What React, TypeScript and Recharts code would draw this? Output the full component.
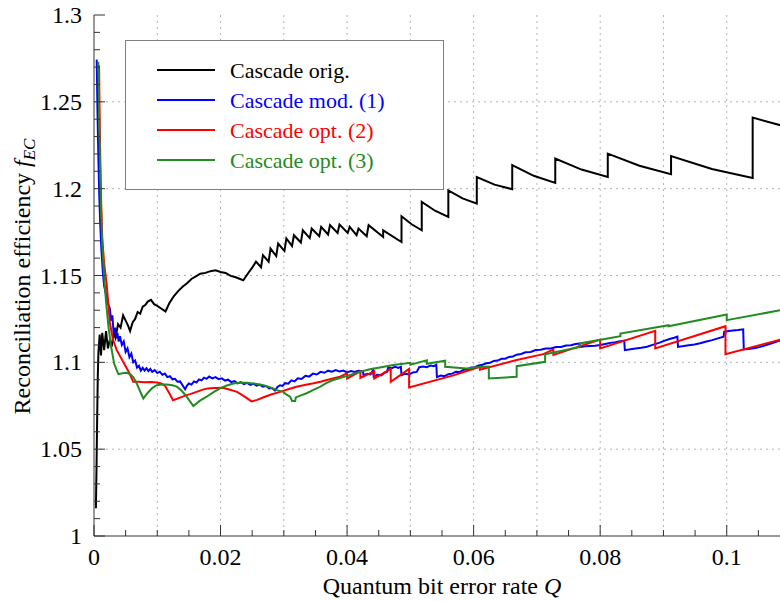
import React from 'react';
import { LineChart, Line, XAxis, YAxis, CartesianGrid, Legend } from 'recharts';

const FONT = '"Liberation Serif", "Times New Roman", "DejaVu Serif", serif';

// Axis ticks
const xTicks = [0, 0.005, 0.01, 0.015, 0.02, 0.025, 0.03, 0.035, 0.04, 0.045, 0.05, 0.055, 0.06, 0.065, 0.07, 0.075, 0.08, 0.085, 0.09, 0.095, 0.1, 0.105, 0.11];
const xLabelTicks = [0, 0.02, 0.04, 0.06, 0.08, 0.1];
const yTicks = [1, 1.01, 1.02, 1.03, 1.04, 1.05, 1.06, 1.07, 1.08, 1.09, 1.1, 1.11, 1.12, 1.13, 1.14, 1.15, 1.16, 1.17, 1.18, 1.19, 1.2, 1.21, 1.22, 1.23, 1.24, 1.25, 1.26, 1.27, 1.28, 1.29, 1.3];
const yLabelTicks = [1, 1.05, 1.1, 1.15, 1.2, 1.25, 1.3];
const gridX = [0.01, 0.02, 0.03, 0.04, 0.05, 0.06, 0.07, 0.08, 0.09, 0.1];
const gridY = [1.05, 1.1, 1.15, 1.2, 1.25];

// Series: [Q, f_EC]
const blackPts: [number, number][] = [
  [0.0003, 1.016], [0.0004, 1.04], [0.0005, 1.068], [0.0006, 1.092], [0.0007, 1.106], [0.0009, 1.116],
  [0.0011, 1.104], [0.0013, 1.117], [0.0016, 1.107], [0.0019, 1.118], [0.0022, 1.108], [0.0025, 1.113],
  [0.0028, 1.109], [0.0031, 1.117], [0.0034, 1.114], [0.0038, 1.122], [0.0042, 1.12], [0.0046, 1.127],
  [0.005, 1.124], [0.0054, 1.121], [0.0057, 1.118], [0.0061, 1.123], [0.0065, 1.125], [0.0069, 1.129],
  [0.0073, 1.128], [0.0077, 1.132], [0.0081, 1.133], [0.0085, 1.135], [0.009, 1.136], [0.0095, 1.1335],
  [0.01, 1.1325], [0.0106, 1.131], [0.0113, 1.1293], [0.0119, 1.134], [0.0126, 1.138], [0.0133, 1.141],
  [0.014, 1.1435], [0.0147, 1.1455], [0.0154, 1.148], [0.0161, 1.1495], [0.0168, 1.151], [0.0176, 1.1515],
  [0.0184, 1.1525], [0.0192, 1.153], [0.02, 1.152], [0.0208, 1.1515], [0.0216, 1.1498], [0.0224, 1.149],
  [0.0231, 1.148], [0.0236, 1.1472], [0.0243, 1.151], [0.025, 1.1545],
  [0.0256, 1.158], [0.0264, 1.1548], [0.0267, 1.1617], [0.0276, 1.158], [0.0279, 1.1655], [0.0288, 1.1612],
  [0.0291, 1.1684], [0.0301, 1.1642], [0.0304, 1.1713], [0.0313, 1.167], [0.0316, 1.1732], [0.0327, 1.169],
  [0.033, 1.176], [0.0341, 1.1715], [0.0344, 1.177], [0.0356, 1.1726], [0.0359, 1.178], [0.037, 1.1736],
  [0.0373, 1.179], [0.0385, 1.1745], [0.0388, 1.1793], [0.0401, 1.1745], [0.0404, 1.178], [0.0415, 1.1732],
  [0.0418, 1.177], [0.0431, 1.1726], [0.0434, 1.179],
  [0.0457, 1.1722], [0.0457, 1.176], [0.0486, 1.1693], [0.0486, 1.1841], [0.0502, 1.1795], [0.0518, 1.176],
  [0.0518, 1.1924], [0.0539, 1.1873], [0.056, 1.1837], [0.056, 1.199], [0.05825, 1.1944], [0.0605, 1.1914],
  [0.0605, 1.2067], [0.0633, 1.2023], [0.0661, 1.1997], [0.0661, 1.2135], [0.0695, 1.2074], [0.0729, 1.2033],
  [0.0729, 1.2173], [0.07705, 1.211], [0.0812, 1.2067], [0.0812, 1.2202], [0.0862, 1.2132], [0.0912, 1.2083],
  [0.0912, 1.2188], [0.09765, 1.2113], [0.1041, 1.2062], [0.1041, 1.2409], [0.1085, 1.2365], [0.11, 1.235],
];

const bluePts: [number, number][] = [
  [0.00043, 1.2743], [0.00055, 1.245], [0.00068, 1.22], [0.00082, 1.198], [0.00098, 1.18], [0.00117, 1.165],
  [0.0014, 1.152], [0.0016, 1.144], [0.0019, 1.139], [0.0022, 1.134], [0.0025, 1.131], [0.0027, 1.124],
  [0.0029, 1.127], [0.0031, 1.117], [0.0033, 1.12], [0.0035, 1.114], [0.0037, 1.117], [0.0039, 1.112],
  [0.0041, 1.115], [0.0044, 1.11], [0.0047, 1.112], [0.005, 1.106], [0.0053, 1.108], [0.0056, 1.103],
  [0.0059, 1.105], [0.0062, 1.1], [0.0065, 1.101], [0.0068, 1.097], [0.0071, 1.098], [0.0074, 1.0952],
  [0.0077, 1.0968], [0.008, 1.0952], [0.0083, 1.0966], [0.0086, 1.095], [0.0089, 1.0962], [0.0092, 1.0945],
  [0.0096, 1.0955], [0.01, 1.0938], [0.0104, 1.0946], [0.0108, 1.0928], [0.0112, 1.0935], [0.0116, 1.0915],
  [0.012, 1.092], [0.0124, 1.0902], [0.0128, 1.0905], [0.0132, 1.0888], [0.0136, 1.089], [0.014, 1.0868],
  [0.0144, 1.0845], [0.0147, 1.0866], [0.015, 1.0878], [0.0154, 1.0872], [0.0158, 1.089], [0.0162, 1.0884],
  [0.0166, 1.0902], [0.017, 1.0896], [0.0174, 1.0912], [0.0178, 1.0905], [0.0182, 1.0918], [0.0187, 1.0908],
  [0.0192, 1.0915], [0.0197, 1.0903], [0.0202, 1.0908], [0.0207, 1.0895], [0.0212, 1.09], [0.0217, 1.0886],
  [0.0222, 1.0892], [0.0227, 1.0879], [0.0232, 1.0886], [0.0237, 1.0874], [0.0242, 1.0882], [0.0247, 1.087],
  [0.0252, 1.0877], [0.0257, 1.0866], [0.0262, 1.0872], [0.0267, 1.086], [0.0272, 1.0864], [0.0277, 1.085],
  [0.0281, 1.0852], [0.0286, 1.0838], [0.029, 1.0858], [0.0294, 1.0868], [0.0298, 1.0864], [0.0302, 1.088],
  [0.0307, 1.0877], [0.0312, 1.0896], [0.0317, 1.089], [0.0322, 1.0908], [0.0328, 1.0904], [0.0334, 1.0922],
  [0.034, 1.0918], [0.0346, 1.0935], [0.0352, 1.093], [0.0358, 1.0945], [0.0364, 1.094], [0.037, 1.0952],
  [0.0376, 1.0946], [0.0382, 1.0956], [0.0388, 1.0948], [0.0394, 1.0953], [0.04, 1.0942], [0.0406, 1.095],
  [0.0412, 1.0944], [0.0418, 1.0952], [0.0425, 1.0948], [0.0426, 1.0926], [0.0432, 1.0934], [0.0437, 1.093],
  [0.0441, 1.0955], [0.0442, 1.0917], [0.0448, 1.0928], [0.0454, 1.0924], [0.0459, 1.094], [0.0463, 1.0945],
  [0.0465, 1.097], [0.047, 1.0966], [0.0476, 1.0974], [0.0481, 1.0968], [0.0485, 1.0975], [0.0486, 1.0926],
  [0.0492, 1.0934], [0.0498, 1.093], [0.0504, 1.0942], [0.051, 1.0945], [0.0514, 1.0972], [0.052, 1.0976],
  [0.0526, 1.0972], [0.0532, 1.0982], [0.0537, 1.0978], [0.0541, 1.0986], [0.0542, 1.0915], [0.0548, 1.0924],
  [0.0554, 1.092], [0.056, 1.0932], [0.0566, 1.0935], [0.0572, 1.0946], [0.0578, 1.0944], [0.0584, 1.0957],
  [0.059, 1.0958], [0.0596, 1.097], [0.0602, 1.0972], [0.0608, 1.0982], [0.0614, 1.0986], [0.062, 1.0995],
  [0.0626, 1.0998], [0.0632, 1.1008], [0.0638, 1.101], [0.0644, 1.102], [0.065, 1.1021], [0.0656, 1.1031],
  [0.0662, 1.1034], [0.0668, 1.1044], [0.0675, 1.1048], [0.0682, 1.1058], [0.069, 1.106], [0.0698, 1.1071],
  [0.0706, 1.1072], [0.0714, 1.108], [0.0722, 1.108], [0.073, 1.1088], [0.0738, 1.1088], [0.0746, 1.1097],
  [0.0754, 1.1098], [0.0761, 1.1106], [0.0767, 1.1108], [0.0768, 1.1088], [0.0776, 1.1092], [0.0784, 1.1094],
  [0.0792, 1.1096], [0.08, 1.11], [0.0808, 1.1106], [0.0816, 1.1112], [0.0824, 1.1116], [0.0832, 1.1122],
  [0.0838, 1.1125], [0.0839, 1.107], [0.0848, 1.1075], [0.0856, 1.1079], [0.0865, 1.1084], [0.0874, 1.109],
  [0.0884, 1.1102], [0.0893, 1.1112], [0.0902, 1.1125], [0.0911, 1.1136], [0.0917, 1.1142], [0.0922, 1.1148],
  [0.0923, 1.1089], [0.0932, 1.1094], [0.094, 1.1098], [0.0949, 1.1103], [0.0958, 1.111], [0.0968, 1.112],
  [0.0977, 1.1128], [0.0986, 1.1138], [0.0995, 1.1148], [0.0996, 1.1175], [0.1003, 1.118], [0.101, 1.1183],
  [0.1018, 1.1186], [0.1026, 1.119], [0.1027, 1.1074], [0.1034, 1.1077], [0.104, 1.108], [0.1047, 1.1084],
  [0.1053, 1.1089], [0.1061, 1.1098], [0.107, 1.1108], [0.1078, 1.1118], [0.1085, 1.1128], [0.11, 1.1145],
];

const redPts: [number, number][] = [
  [0.0008, 1.271], [0.00088, 1.245], [0.001, 1.215], [0.00115, 1.19], [0.0013, 1.172], [0.0016, 1.157],
  [0.002, 1.145], [0.0025, 1.123], [0.003, 1.113], [0.0036, 1.107], [0.0042, 1.103], [0.0048, 1.099],
  [0.0055, 1.0945], [0.0062, 1.0888], [0.007, 1.0888], [0.008, 1.0886], [0.009, 1.0887], [0.0099, 1.0884],
  [0.0106, 1.0878], [0.0112, 1.0866], [0.0119, 1.0822], [0.0125, 1.0782], [0.0135, 1.0795], [0.0145, 1.081],
  [0.0152, 1.0817], [0.0162, 1.083], [0.0172, 1.0843], [0.018, 1.085], [0.019, 1.0852], [0.0204, 1.0853],
  [0.0215, 1.0842], [0.0226, 1.083], [0.0235, 1.081], [0.0241, 1.0795], [0.0249, 1.0775], [0.0258, 1.0784],
  [0.0268, 1.0799], [0.028, 1.0815], [0.0294, 1.083], [0.0307, 1.0845], [0.032, 1.0859], [0.0333, 1.087],
  [0.0347, 1.0879], [0.0358, 1.0888], [0.0368, 1.0898], [0.0379, 1.0908], [0.0389, 1.0917], [0.04, 1.0936],
  [0.04, 1.0907], [0.0421, 1.0948], [0.0421, 1.091], [0.0443, 1.0948], [0.0443, 1.0907], [0.0469, 1.0962],
  [0.0469, 1.0888], [0.0498, 1.0962], [0.0498, 1.0855], [0.0568, 1.0925], [0.061, 1.0975], [0.061, 1.0958],
  [0.0668, 1.1013], [0.071, 1.1047], [0.0726, 1.1074], [0.0726, 1.1043], [0.08, 1.1131], [0.08, 1.108],
  [0.0887, 1.1181], [0.0887, 1.108], [0.0998, 1.1208], [0.0998, 1.1047], [0.1085, 1.1131], [0.11, 1.1145],
];

const greenPts: [number, number][] = [
  [0.00068, 1.273], [0.0008, 1.245], [0.00095, 1.215], [0.0011, 1.19], [0.0013, 1.168], [0.0016, 1.15],
  [0.0019, 1.135], [0.0023, 1.12], [0.0027, 1.109], [0.0032, 1.099], [0.00385, 1.0932], [0.0045, 1.0937],
  [0.0052, 1.094], [0.0058, 1.093], [0.0062, 1.0915], [0.0068, 1.0875], [0.0073, 1.0832], [0.0078, 1.0792],
  [0.0085, 1.0825], [0.0092, 1.0852], [0.0099, 1.0868], [0.0107, 1.0872], [0.0115, 1.0873], [0.0124, 1.0868],
  [0.0131, 1.086], [0.0139, 1.0835], [0.0147, 1.08], [0.0157, 1.0748], [0.0167, 1.0778], [0.0178, 1.0802],
  [0.0189, 1.0828], [0.0199, 1.085], [0.021, 1.0867], [0.022, 1.0878], [0.023, 1.0882], [0.0241, 1.0882],
  [0.0255, 1.0877], [0.0268, 1.0868], [0.0279, 1.0855], [0.0289, 1.084], [0.0299, 1.083], [0.0305, 1.0812],
  [0.031, 1.0802], [0.0313, 1.0778], [0.0318, 1.0778], [0.0319, 1.0798], [0.0327, 1.081], [0.0336, 1.0822],
  [0.0346, 1.084], [0.0357, 1.0859], [0.0367, 1.088], [0.0378, 1.0898], [0.0389, 1.091], [0.04, 1.0922],
  [0.042, 1.0945], [0.0436, 1.096], [0.0452, 1.097], [0.0473, 1.0984], [0.05, 1.0997], [0.05, 1.0986],
  [0.0526, 1.1012], [0.0526, 1.0992], [0.0555, 1.1009], [0.0555, 1.0974], [0.0589, 1.0965], [0.0605, 1.0971],
  [0.0624, 1.0975], [0.0624, 1.0907], [0.0668, 1.0917], [0.0668, 1.0978], [0.0713, 1.1003], [0.0713, 1.1046],
  [0.0768, 1.1089], [0.0768, 1.1109], [0.0832, 1.1151], [0.0832, 1.1166], [0.0908, 1.1214], [0.0908, 1.1208],
  [0.1, 1.1276], [0.1, 1.1243], [0.1085, 1.13], [0.11, 1.1312],
];

const toData = (pts: [number, number][]) => pts.map(([x, y]) => ({ x, y }));

const seriesNames = ['Cascade orig.', 'Cascade mod. (1)', 'Cascade opt. (2)', 'Cascade opt. (3)'];
const seriesColors = ['#000000', '#0000ff', '#ff0000', '#228b22'];
const seriesPts = [blackPts, bluePts, redPts, greenPts];

const AXIS = '#333333';

const isIn = (list: number[], v: number) => list.some((t) => Math.abs(t - v) < 1e-9);
const fmt = (v: number) => String(parseFloat(v.toFixed(3)));

const BottomTick = (props: any) => {
  const { x, y, payload } = props;
  const v = payload.value;
  const major = isIn(xLabelTicks, v);
  return (
    <g>
      <line x1={x} y1={y} x2={x} y2={y - (major ? 11 : 6)} stroke={AXIS} strokeWidth={1} />
      {major && (
        <text x={x} y={y + 29} textAnchor="middle" fontFamily={FONT} fontSize={24} fill="#000">
          {fmt(v)}
        </text>
      )}
    </g>
  );
};

const TopTick = (props: any) => {
  const { x, y, payload } = props;
  const major = isIn(xLabelTicks, payload.value);
  return <line x1={x} y1={y} x2={x} y2={y + (major ? 11 : 6)} stroke={AXIS} strokeWidth={1} />;
};

const LeftTick = (props: any) => {
  const { x, y, payload } = props;
  const v = payload.value;
  const major = isIn(yLabelTicks, v);
  return (
    <g>
      <line x1={x} y1={y} x2={x + (major ? 11 : 6)} y2={y} stroke={AXIS} strokeWidth={1} />
      {major && (
        <text x={x - 12} y={y + 8} textAnchor="end" fontFamily={FONT} fontSize={24} fill="#000">
          {fmt(v)}
        </text>
      )}
    </g>
  );
};

const XTitle = (props: any) => {
  const vb = props.viewBox || { x: 94, y: 536, width: 696, height: 30 };
  return (
    <text x={vb.x + vb.width / 2} y={vb.y + 58} textAnchor="middle" fontFamily={FONT} fontSize={24} fill="#000">
      {'Quantum bit error rate '}
      <tspan fontStyle="italic">Q</tspan>
    </text>
  );
};

const YTitle = (props: any) => {
  const vb = props.viewBox || { x: 0, y: 15, width: 94, height: 521 };
  const cx = 30;
  const cy = vb.y + vb.height / 2 + 1;
  return (
    <text x={cx} y={cy} transform={`rotate(-90, ${cx}, ${cy})`} textAnchor="middle" fontFamily={FONT} fontSize={24} fill="#000">
      {'Reconciliation efficiency '}
      <tspan fontStyle="italic">f</tspan>
      <tspan fontStyle="italic" fontSize={17} dy={5}>EC</tspan>
    </text>
  );
};

const LegendBox = () => (
  <svg width={319} height={150} style={{ display: 'block' }}>
    <rect x={0.5} y={0.5} width={318} height={149} fill="#ffffff" stroke="#808080" strokeWidth={1} />
    {seriesNames.map((name, i) => (
      <g key={name}>
        <line x1={32} x2={90} y1={30 + i * 30} y2={30 + i * 30} stroke={seriesColors[i]} strokeWidth={2} />
        <text x={105} y={38 + i * 30} fontFamily={FONT} fontSize={22} fill={seriesColors[i]}>
          {name}
        </text>
      </g>
    ))}
  </svg>
);

export default function App() {
  return (
    <div style={{ position: 'absolute', left: 0, top: 0, width: 780, height: 601, overflow: 'hidden', background: '#fff' }}>
      <LineChart width={800} height={601} margin={{ top: 15, right: 10, bottom: 35, left: 0 }}>
        <CartesianGrid
          xAxisId="b"
          stroke="#b4b4b4"
          strokeDasharray="2 4"
          verticalValues={gridX}
          horizontalValues={gridY}
        />
        <XAxis
          xAxisId="b"
          type="number"
          dataKey="x"
          domain={[0, 0.11]}
          allowDataOverflow
          ticks={xTicks}
          interval={0}
          tickSize={0}
          tickMargin={0}
          tickLine={false}
          tick={<BottomTick />}
          axisLine={{ stroke: AXIS }}
          height={30}
          label={(p: any) => <XTitle {...p} />}
        />
        <XAxis
          xAxisId="t"
          orientation="top"
          type="number"
          dataKey="x"
          domain={[0, 0.11]}
          allowDataOverflow
          ticks={xTicks}
          interval={0}
          tickSize={0}
          tickMargin={0}
          tickLine={false}
          tick={<TopTick />}
          axisLine={{ stroke: AXIS }}
          height={0}
        />
        <YAxis
          type="number"
          domain={[1, 1.3]}
          allowDataOverflow
          ticks={yTicks}
          interval={0}
          tickSize={0}
          tickMargin={0}
          tickLine={false}
          tick={<LeftTick />}
          axisLine={{ stroke: AXIS }}
          width={94}
          label={(p: any) => <YTitle {...p} />}
        />
        <Legend
          layout="vertical"
          align="center"
          verticalAlign="middle"
          content={() => <LegendBox />}
          wrapperStyle={{ position: 'absolute', left: 125, top: 40, width: 319, height: 150 }}
        />
        {seriesPts.map((pts, i) => (
          <Line
            key={seriesNames[i]}
            xAxisId="b"
            data={toData(pts)}
            dataKey="y"
            name={seriesNames[i]}
            type="linear"
            stroke={seriesColors[i]}
            strokeWidth={2}
            dot={false}
            activeDot={false}
            isAnimationActive={false}
          />
        ))}
      </LineChart>
    </div>
  );
}
